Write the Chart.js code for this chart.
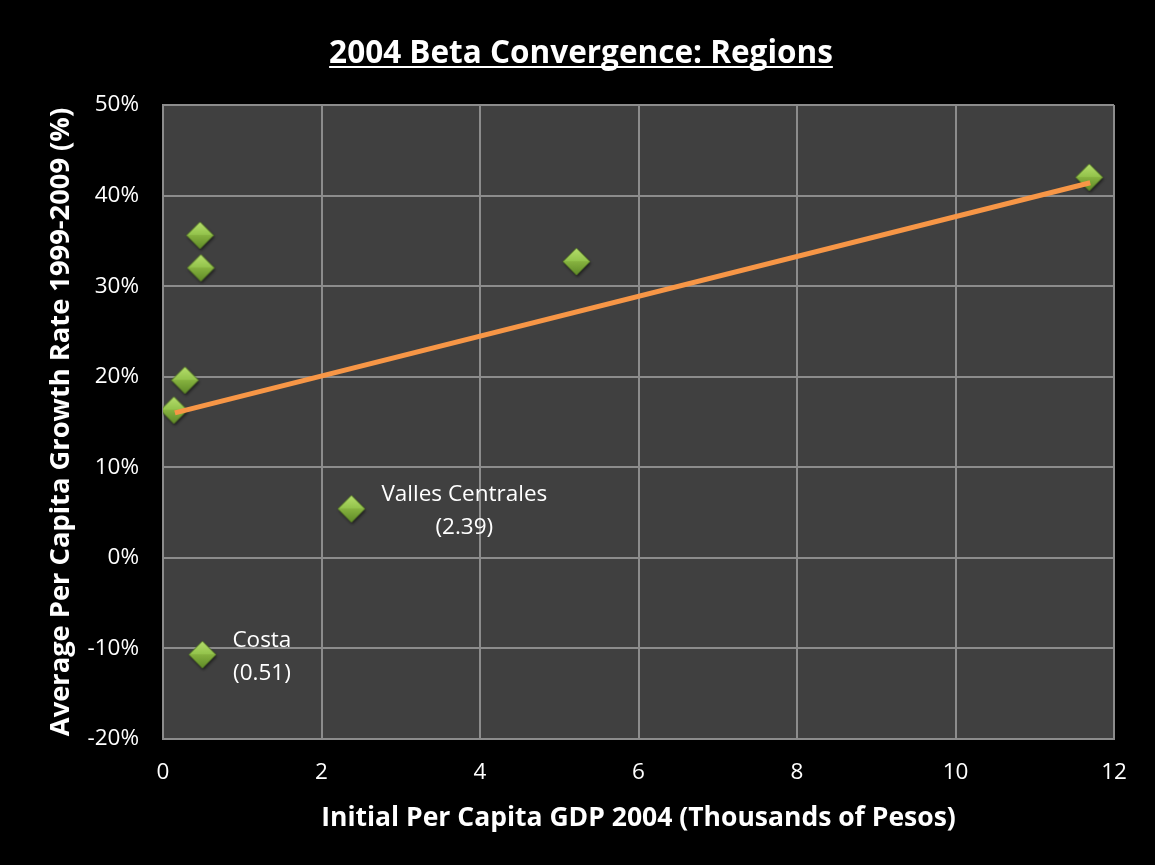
<!DOCTYPE html>
<html>
<head>
<meta charset="utf-8">
<script src="https://cdn.jsdelivr.net/npm/chart.js@4/dist/chart.umd.min.js"></script>
<style>
    html, body { margin: 0; padding: 0; background: #000; }
    #wrap { width: 1155px; height: 865px; }
</style>
</head>
<body>
<div id="wrap"><canvas id="betaChart" width="1155" height="865"></canvas></div>
<script>
// Regions: initial per capita GDP 2004 (thousands of pesos) vs growth 1999-2009 (%)
const gdp2004 = [0.15, 0.29, 0.49, 0.48, 0.51, 2.39, 5.23, 11.7];
const growthRate = [16.2, 19.5, 31.9, 35.5, -10.8, 5.3, 32.6, 41.9];
// label lines for the annotated regions (null = no label)
const pointLabels = [null, null, null, null, ['Costa', '(0.51)'], ['Valles Centrales', '(2.39)'], null, null];

const xTicks = [0, 2, 4, 6, 8, 10, 12];
const yTicks = [-20, -10, 0, 10, 20, 30, 40, 50];

const chartTitle = '2004 Beta Convergence: Regions';
const xTitle = 'Initial Per Capita GDP 2004 (Thousands of Pesos)';
const yTitle = 'Average Per Capita Growth Rate 1999-2009 (%)';

const FONT = "'Open Sans', 'Lato', sans-serif";

// least squares trendline through the scatter
function linearFit(xs, ys) {
    const n = xs.length;
    const mx = xs.reduce((a, b) => a + b, 0) / n;
    const my = ys.reduce((a, b) => a + b, 0) / n;
    let sxy = 0, sxx = 0;
    for (let i = 0; i < n; i++) {
        sxy += (xs[i] - mx) * (ys[i] - my);
        sxx += (xs[i] - mx) * (xs[i] - mx);
    }
    const slope = sxy / sxx;
    return { slope, intercept: my - slope * mx };
}

const fit = linearFit(gdp2004, growthRate);
const xMin = Math.min(...gdp2004);
const xMax = Math.max(...gdp2004);
const trendPoints = [
    { x: xMin, y: fit.intercept + fit.slope * xMin },
    { x: xMax, y: fit.intercept + fit.slope * xMax }
];

// bevelled green diamond marker
function makeDiamond(r) {
    const size = Math.ceil(r * 2 + 6);
    const c = document.createElement('canvas');
    c.width = size;
    c.height = size;
    const g = c.getContext('2d');
    const cx = size / 2 - 1, cy = size / 2 - 1;

    g.save();
    g.shadowColor = 'rgba(0,0,0,0.55)';
    g.shadowBlur = 3;
    g.shadowOffsetX = 1;
    g.shadowOffsetY = 2;
    g.beginPath();
    g.moveTo(cx - r, cy);
    g.lineTo(cx, cy - r);
    g.lineTo(cx + r, cy);
    g.lineTo(cx, cy + r);
    g.closePath();
    g.fillStyle = '#7fa83c';
    g.fill();
    g.restore();

    // upper facet
    const top = g.createLinearGradient(0, cy - r, 0, cy);
    top.addColorStop(0, '#b5de6c');
    top.addColorStop(1, '#92c24a');
    g.beginPath();
    g.moveTo(cx - r, cy);
    g.lineTo(cx, cy - r);
    g.lineTo(cx + r, cy);
    g.closePath();
    g.fillStyle = top;
    g.fill();

    // lower facet
    const bottom = g.createLinearGradient(0, cy, 0, cy + r);
    bottom.addColorStop(0, '#86b23f');
    bottom.addColorStop(1, '#5f8a27');
    g.beginPath();
    g.moveTo(cx - r, cy);
    g.lineTo(cx + r, cy);
    g.lineTo(cx, cy + r);
    g.closePath();
    g.fillStyle = bottom;
    g.fill();

    g.beginPath();
    g.moveTo(cx - r, cy);
    g.lineTo(cx, cy - r);
    g.lineTo(cx + r, cy);
    g.lineTo(cx, cy + r);
    g.closePath();
    g.strokeStyle = 'rgba(70,100,30,0.8)';
    g.lineWidth = 1;
    g.stroke();
    return c;
}

const diamond = makeDiamond(13.5);

// black page, dark grey plot area, underlined title
const frame = {
    id: 'frame',
    beforeDraw(chart) {
        const { ctx, chartArea: a } = chart;
        ctx.save();
        ctx.fillStyle = '#000';
        ctx.fillRect(0, 0, chart.width, chart.height);
        ctx.fillStyle = '#404040';
        ctx.fillRect(a.left, a.top, a.right - a.left, a.bottom - a.top);
        ctx.restore();
    },
    afterDraw(chart) {
        const { ctx } = chart;
        ctx.save();
        ctx.font = 'bold 31.5px ' + FONT;
        ctx.fillStyle = '#fff';
        ctx.textAlign = 'center';
        ctx.textBaseline = 'alphabetic';
        const cx = 581;
        ctx.fillText(chartTitle, cx, 63);
        const w = ctx.measureText(chartTitle).width;
        ctx.fillRect(cx - w / 2, 66, w, 2);
        ctx.restore();
    }
};

// text labels beside the annotated points
const regionLabels = {
    id: 'regionLabels',
    afterDatasetsDraw(chart) {
        const { ctx, scales } = chart;
        ctx.save();
        ctx.font = '22.5px ' + FONT;
        ctx.fillStyle = '#fff';
        ctx.textAlign = 'center';
        ctx.textBaseline = 'middle';
        pointLabels.forEach((lines, i) => {
            if (!lines) return;
            const px = scales.x.getPixelForValue(gdp2004[i]);
            const py = scales.y.getPixelForValue(growthRate[i]);
            const boxW = Math.max(...lines.map(t => ctx.measureText(t).width));
            const mid = px + 29 + boxW / 2;
            ctx.fillText(lines[0], mid, py - 15);
            ctx.fillText(lines[1], mid, py + 18);
        });
        ctx.restore();
    }
};

const gridColor = '#8c8c8c';

new Chart(document.getElementById('betaChart'), {
    type: 'scatter',
    data: {
        datasets: [
            {
                label: 'Trend',
                type: 'line',
                data: trendPoints,
                borderColor: '#f79646',
                borderWidth: 5,
                pointRadius: 0,
                fill: false,
                order: 0
            },
            {
                label: 'Regions',
                data: gdp2004.map((x, i) => ({ x, y: growthRate[i] })),
                pointStyle: diamond,
                pointRadius: 14,
                order: 1
            }
        ]
    },
    options: {
        responsive: false,
        animation: false,
        events: [],
        layout: { padding: { left: 0, right: 41, top: 105, bottom: 0 } },
        plugins: {
            legend: { display: false },
            tooltip: { enabled: false }
        },
        scales: {
            x: {
                type: 'linear',
                min: xTicks[0],
                max: xTicks[xTicks.length - 1],
                afterBuildTicks: (s) => { s.ticks = xTicks.map(v => ({ value: v })); },
                afterFit: (s) => { s.height = 126; },
                grid: { color: gridColor, lineWidth: 2, drawTicks: false },
                border: { color: gridColor, width: 2 },
                ticks: {
                    color: '#fff',
                    padding: 20,
                    font: { family: FONT, size: 22.5 }
                },
                title: {
                    display: true,
                    text: xTitle,
                    color: '#fff',
                    font: { family: FONT, size: 26.5, weight: 'bold' },
                    padding: { top: 0, bottom: 31 }
                }
            },
            y: {
                type: 'linear',
                min: yTicks[0],
                max: yTicks[yTicks.length - 1],
                afterBuildTicks: (s) => { s.ticks = yTicks.map(v => ({ value: v })); },
                afterFit: (s) => { s.width = 163; },
                grid: { color: gridColor, lineWidth: 2, drawTicks: false },
                border: { color: gridColor, width: 2 },
                ticks: {
                    color: '#fff',
                    padding: 24,
                    font: { family: FONT, size: 22.5 },
                    callback: (v) => v + '%'
                },
                title: {
                    display: true,
                    text: yTitle,
                    color: '#fff',
                    font: { family: FONT, size: 27.3, weight: 'bold' },
                    padding: { top: 45, bottom: 0 }
                }
            }
        }
    },
    plugins: [frame, regionLabels]
});
</script>
</body>
</html>
